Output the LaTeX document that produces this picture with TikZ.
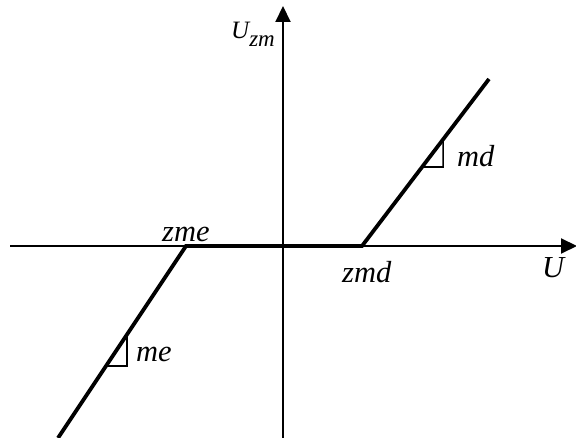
\documentclass[tikz,border=0pt]{standalone}
\usepackage{fontspec}
\setmainfont{Liberation Serif}
\usetikzlibrary{arrows.meta,calc}
\begin{document}
\begin{tikzpicture}[x=1pt,y=-1pt,
  axis/.style={line width=2pt,-{Triangle[length=16pt,width=15pt]}},
  curve/.style={line width=3.8pt},
  slopemark/.style={line width=1.6pt},
  lbl/.style={font=\fontsize{30.5}{31}\selectfont\itshape,anchor=base west,inner sep=0pt}]
\useasboundingbox (0,0) rectangle (576,438);
% axes
\coordinate (xl) at (10,246);
\coordinate (xr) at (577,246);
\coordinate (yb) at (283,438);
\coordinate (yt) at (283,6);
\draw[axis] (xl) -- (xr);
\draw[axis] (yb) -- (yt);
% characteristic
\coordinate (zme) at (186,246);
\coordinate (zmd) at (362,246);
\coordinate (mdtop) at (489,79);
\coordinate (mebot) at (58,438);
\draw[curve,line cap=butt] (mebot) -- (zme) -- (zmd) -- (mdtop);
% slope triangles
\coordinate (mdA) at (intersection of zmd--mdtop and 0,167--500,167);
\coordinate (mdB) at ($(mdA)+(21,0)$);
\coordinate (mdC) at (intersection of zmd--mdtop and mdB--{$(mdB)+(0,-50)$});
\draw[slopemark] (mdA) -- (mdB) -- (mdC);
\coordinate (meA) at (intersection of zme--mebot and 0,366--500,366);
\coordinate (meB) at ($(meA)+(21,0)$);
\coordinate (meC) at (intersection of zme--mebot and meB--{$(meB)+(0,-50)$});
\draw[slopemark] (meA) -- (meB) -- (meC);
% labels
\node[lbl] (lzme) at (162,242) {zme};
\node[lbl] (lzmd) at (342,283) {zmd};
\node[lbl] (lU) at (542,278) {U};
\node[lbl] (lmd) at (457,167) {md};
\node[lbl] (lme) at (136,362) {me};
\node[anchor=base west,inner sep=0pt,font=\fontsize{25}{26}\selectfont\itshape] (lUzm) at (231,39) {U\raisebox{-8pt}{\fontsize{23}{24}\selectfont zm}};
\end{tikzpicture}
\end{document}
